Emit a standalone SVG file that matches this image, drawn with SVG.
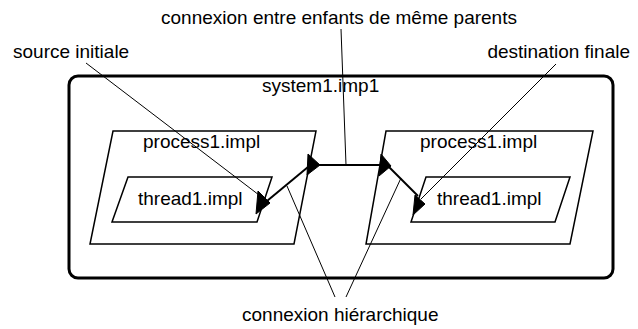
<svg xmlns="http://www.w3.org/2000/svg" width="638" height="329" viewBox="0 0 638 329">
  <style>
    text { font-family: "Liberation Sans", Arial, Helvetica, sans-serif; font-size: 19px; fill: #000; }
    .system { fill: none; stroke: #000; stroke-width: 3; }
    .comp { fill: none; stroke: #000; stroke-width: 1.5; stroke-linejoin: miter; }
    .port { fill: #000; stroke: #000; stroke-width: 1; stroke-linejoin: round; }
    .conn { stroke: #000; stroke-width: 2; fill: none; }
    .note { stroke: #000; stroke-width: 1; fill: none; }
  </style>
  <rect width="638" height="329" fill="#fff"/>

  <!-- system -->
  <g id="system1">
    <rect class="system" x="69" y="76" width="544" height="202" rx="9" ry="9"/>
    <text x="262" y="92">system1.imp1</text>
  </g>

  <!-- left process and its thread -->
  <g id="process-left">
    <polygon class="comp" points="113,131 316,131 294,244 90,244"/>
    <text x="143" y="148">process1.impl</text>
    <polygon class="port" points="308,154 307,175 320,165"/>
  </g>
  <g id="thread-left">
    <polygon class="comp" points="128,177 272,177 257,222 112,222"/>
    <text x="138" y="205">thread1.impl</text>
    <polygon class="port" points="258,191 256,214 270,203"/>
  </g>

  <!-- right process and its thread -->
  <g id="process-right">
    <polygon class="comp" points="386,131 593,131 570,244 366,244"/>
    <text x="420" y="148">process1.impl</text>
    <polygon class="port" points="381,154 379,176 391,166"/>
  </g>
  <g id="thread-right">
    <polygon class="comp" points="426,177 570,177 555,222 411,222"/>
    <text x="437" y="205">thread1.impl</text>
    <polygon class="port" points="415,195 413,215 425,204"/>
  </g>

  <!-- connections -->
  <g id="connectors">
    <line class="conn" x1="308" y1="167" x2="267" y2="201"/>
    <line class="conn" x1="319" y1="165" x2="381" y2="165"/>
    <line class="conn" x1="388" y1="166" x2="418" y2="196"/>
  </g>

  <!-- annotations -->
  <g id="annotations">
    <text x="161" y="24">connexion entre enfants de même parents</text>
    <text x="13" y="58">source initiale</text>
    <text x="630" y="58" text-anchor="end">destination finale</text>
    <text x="242" y="321">connexion hiérarchique</text>
    <line class="note" x1="86" y1="63" x2="259" y2="195"/>
    <line class="note" x1="556" y1="64" x2="421" y2="199"/>
    <line class="note" x1="341" y1="29" x2="346" y2="165"/>
    <line class="note" x1="287" y1="186" x2="335" y2="297"/>
    <line class="note" x1="401" y1="178" x2="346" y2="297"/>
  </g>
</svg>
